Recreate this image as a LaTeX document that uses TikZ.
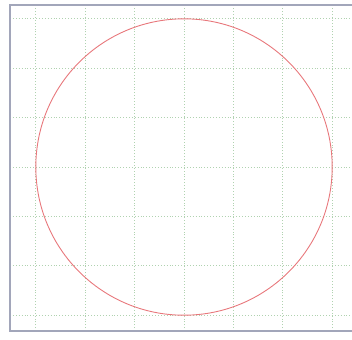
\documentclass[tikz,border=0pt]{standalone}
\usepackage{xcolor}
\definecolor{gridgreen}{HTML}{B0D2B0}
\definecolor{framegray}{HTML}{A2A6BA}
\definecolor{circlered}{HTML}{E8787C}

\begin{document}
\begin{tikzpicture}[x=49.4pt, y=49.4pt,
      gridline/.style={gridgreen, dotted, line width=0.9pt},
      frameline/.style={framegray, line width=1.4pt},
      ring/.style={circlered, line width=0.9pt}]

      % Fix the page size
      \useasboundingbox (-3.725,-3.502) rectangle (3.401,3.381);

      % Frame edges
      \def\frameL{-3.522}
      \def\frameT{3.279}
      \def\frameB{-3.320}
      \def\frameR{3.45}

      % Dotted grid, one unit per cell
      \foreach \i in {-3,...,3} {
         \draw[gridline] (\i,\frameB) -- (\i,\frameT);
         \draw[gridline] (\frameL,\i) -- (\frameR,\i);
      }

      % Frame
      \draw[frameline] (\frameR,\frameT) -- (\frameL,\frameT) -- (\frameL,\frameB) -- (\frameR,\frameB);

      % Circle of radius three cells
      \draw[ring] (0,0) circle (3);
   \end{tikzpicture}
\end{document}
